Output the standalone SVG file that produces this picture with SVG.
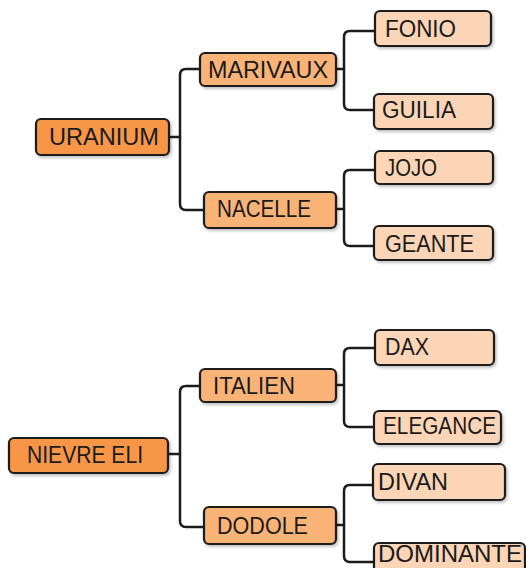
<svg xmlns="http://www.w3.org/2000/svg" width="526" height="568" viewBox="0 0 526 568">
<defs>
<filter id="sh" x="-10%" y="-20%" width="130%" height="160%">
<feDropShadow dx="1.5" dy="2" stdDeviation="1.5" flood-color="#000" flood-opacity="0.25"/>
</filter>
<style>
.box{stroke:#1b1b1b;stroke-width:2.2;filter:url(#sh)}
.l1{fill:#F79646}
.l2{fill:#F9B377}
.l3{fill:#FBD5B5}
text{font-family:"Liberation Sans",Arial,sans-serif;font-size:23px;fill:#1a1a1a}
.c{fill:none;stroke:#1b1b1b;stroke-width:2.5;stroke-linejoin:round;stroke-linecap:round}
</style>
</defs>
<rect width="526" height="568" fill="#ffffff"/>
<g id="connectors">
<path class="c" d="M169,137 H180"/>
<path class="c" d="M200,69 H186 Q180,69 180,75 V204 Q180,210 186,210 H204"/>
<path class="c" d="M336,69 H344"/>
<path class="c" d="M375,31 H350 Q344,31 344,37 V104 Q344,110 350,110 H374"/>
<path class="c" d="M336,209 H344"/>
<path class="c" d="M375,170 H350 Q344,170 344,176 V240 Q344,246 350,246 H374"/>
<path class="c" d="M168,454 H180"/>
<path class="c" d="M200,386 H186 Q180,386 180,392 V521 Q180,527 186,527 H204"/>
<path class="c" d="M336,385 H344"/>
<path class="c" d="M375,348 H350 Q344,348 344,354 V421 Q344,427 350,427 H374"/>
<path class="c" d="M336,525 H344"/>
<path class="c" d="M373,485 H350 Q344,485 344,491 V556 Q344,562 350,562 H374"/>
</g>
<g id="uranium"><rect class="box l1" x="36" y="119" width="133" height="36" rx="5"/><text x="49" y="145" textLength="110" lengthAdjust="spacingAndGlyphs">URANIUM</text></g>
<g id="marivaux"><rect class="box l2" x="200" y="53" width="136" height="33" rx="5"/><text x="208" y="78" textLength="120" lengthAdjust="spacingAndGlyphs">MARIVAUX</text></g>
<g id="nacelle"><rect class="box l2" x="204" y="192" width="132" height="36" rx="5"/><text x="217" y="217" textLength="94" lengthAdjust="spacingAndGlyphs">NACELLE</text></g>
<g id="fonio"><rect class="box l3" x="375" y="11" width="116" height="35" rx="5"/><text x="385" y="37" textLength="71" lengthAdjust="spacingAndGlyphs">FONIO</text></g>
<g id="guilia"><rect class="box l3" x="374" y="94" width="119" height="35" rx="5"/><text x="382" y="118" textLength="74" lengthAdjust="spacingAndGlyphs">GUILIA</text></g>
<g id="jojo"><rect class="box l3" x="375" y="151" width="118" height="33" rx="5"/><text x="385" y="176" textLength="52" lengthAdjust="spacingAndGlyphs">JOJO</text></g>
<g id="geante"><rect class="box l3" x="374" y="226" width="119" height="34" rx="5"/><text x="385" y="252" textLength="89" lengthAdjust="spacingAndGlyphs">GEANTE</text></g>
<g id="nievre-eli"><rect class="box l1" x="9" y="438" width="159" height="35" rx="5"/><text x="27" y="463" textLength="116" lengthAdjust="spacingAndGlyphs">NIEVRE ELI</text></g>
<g id="italien"><rect class="box l2" x="200" y="369" width="136" height="33" rx="5"/><text x="213" y="394" textLength="82" lengthAdjust="spacingAndGlyphs">ITALIEN</text></g>
<g id="dodole"><rect class="box l2" x="204" y="507" width="132" height="37" rx="5"/><text x="217" y="534" textLength="91" lengthAdjust="spacingAndGlyphs">DODOLE</text></g>
<g id="dax"><rect class="box l3" x="375" y="330" width="119" height="35" rx="5"/><text x="385" y="355" textLength="44" lengthAdjust="spacingAndGlyphs">DAX</text></g>
<g id="elegance"><rect class="box l3" x="374" y="411" width="127" height="33" rx="5"/><text x="383" y="434" textLength="113" lengthAdjust="spacingAndGlyphs">ELEGANCE</text></g>
<g id="divan"><rect class="box l3" x="373" y="464" width="132" height="36" rx="5"/><text x="378" y="490" textLength="70" lengthAdjust="spacingAndGlyphs">DIVAN</text></g>
<g id="dominante"><rect class="box l3" x="374" y="543" width="151" height="40" rx="5"/><text x="378" y="562" font-size="20" textLength="144" lengthAdjust="spacingAndGlyphs">DOMINANTE</text></g>
</svg>
